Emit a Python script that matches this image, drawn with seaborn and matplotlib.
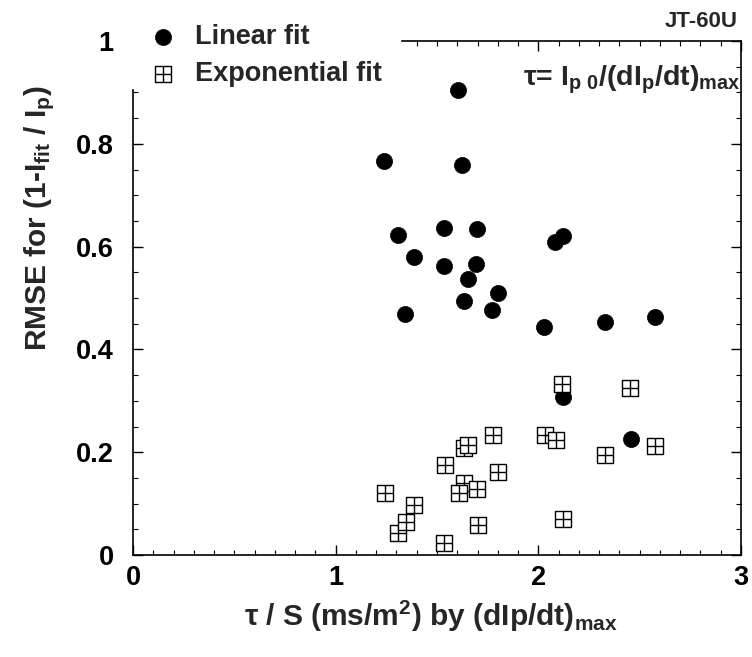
import numpy as np
import pandas as pd
import matplotlib
matplotlib.use("Agg")
import matplotlib.pyplot as plt
from matplotlib.path import Path
from matplotlib.ticker import MultipleLocator, FuncFormatter
import seaborn as sns

# ---- data ----
lin_x = [1.605, 1.238, 1.625, 1.306, 1.534, 1.699, 2.082, 2.123, 1.385, 1.534, 1.691,
         1.651, 1.802, 1.633, 1.773, 1.342, 2.027, 2.33, 2.575, 2.12, 2.455]
lin_y = [0.905, 0.767, 0.759, 0.623, 0.636, 0.634, 0.608, 0.621, 0.579, 0.563, 0.566,
         0.536, 0.510, 0.495, 0.477, 0.468, 0.443, 0.454, 0.464, 0.308, 0.226]

exp_x = [1.634, 1.633, 2.115, 2.45, 1.775, 2.033, 2.087, 1.654, 2.578, 2.33, 1.539,
         1.802, 1.696, 1.610, 1.243, 1.388, 1.309, 1.345, 2.123, 1.703, 1.534]
exp_y = [0.208, 0.141, 0.333, 0.325, 0.233, 0.233, 0.224, 0.214, 0.212, 0.194, 0.175,
         0.162, 0.128, 0.120, 0.120, 0.097, 0.042, 0.065, 0.071, 0.058, 0.023]

x_ticks = [0, 1, 2, 3]
y_ticks = [0, 0.2, 0.4, 0.6, 0.8, 1]
series_labels = ["Linear fit", "Exponential fit"]

sns.set_theme(style="ticks")
plt.rcParams["font.family"] = ["Liberation Sans", "DejaVu Sans"]
plt.rcParams["font.weight"] = "bold"
plt.rcParams["mathtext.fontset"] = "custom"
plt.rcParams["mathtext.rm"] = "Liberation Sans:bold"
plt.rcParams["mathtext.it"] = "Liberation Sans:bold"
plt.rcParams["mathtext.bf"] = "Liberation Sans:bold"
plt.rcParams["mathtext.sf"] = "Liberation Sans:bold"
plt.rcParams["mathtext.default"] = "rm"

lin_df = pd.DataFrame({"x": lin_x, "y": lin_y})
exp_df = pd.DataFrame({"x": exp_x, "y": exp_y})

# square-with-cross marker
verts = [(-1, -1), (1, -1), (1, 1), (-1, 1), (-1, -1),
         (0, -1), (0, 1), (-1, 0), (1, 0)]
codes = [Path.MOVETO, Path.LINETO, Path.LINETO, Path.LINETO, Path.CLOSEPOLY,
         Path.MOVETO, Path.LINETO, Path.MOVETO, Path.LINETO]
boxplus = Path(verts, codes)

fig = plt.figure(figsize=(7.52, 6.57), dpi=100)
ax = fig.add_axes([133 / 752, 1 - 555 / 657, 608 / 752, 514 / 657])

sns.scatterplot(data=lin_df, x="x", y="y", ax=ax, marker="o", s=135,
                color="black", edgecolor="black", linewidth=0.5,
                label=series_labels[0], zorder=3)
sns.scatterplot(data=exp_df, x="x", y="y", ax=ax, marker=boxplus, s=135,
                facecolor="white", edgecolor="black", linewidth=1.0,
                label=series_labels[1], zorder=4)

ax.set_xlim(0, 3)
ax.set_ylim(0, 1)
ax.set_xticks(x_ticks)
ax.set_yticks(y_ticks)
ax.xaxis.set_minor_locator(MultipleLocator(0.1))
ax.yaxis.set_minor_locator(MultipleLocator(0.05))
ax.yaxis.set_major_formatter(FuncFormatter(lambda v, p: f"{v:g}"))
ax.xaxis.set_major_formatter(FuncFormatter(lambda v, p: f"{v:g}"))
ax.tick_params(which="both", direction="in", top=True, right=True,
               colors="black", labelsize=19.5)
ax.tick_params(which="major", length=7, width=1.0)
ax.tick_params(which="minor", length=3.6, width=0.8)
ax.tick_params(axis="y", pad=14)
ax.tick_params(axis="x", pad=7)
for lab in ax.get_xticklabels() + ax.get_yticklabels():
    lab.set_fontweight("bold")
for sp in ax.spines.values():
    sp.set_color("black")
    sp.set_linewidth(1.2)

ax.set_xlabel(r"τ / S (ms/m$^{2}$) by (dIp/dt)$_{\rm max}$", fontsize=21.5,
              fontweight="bold")
ax.set_ylabel(r"RMSE for (1-I$_{\rm fit}$ / I$_{\rm p}$)", fontsize=21.5,
              fontweight="bold")
ax.xaxis.set_label_coords(0.49, -0.085)
ax.yaxis.set_label_coords(-0.125, 0.656)

leg = ax.legend(loc="upper left",
                bbox_to_anchor=(130 / 752, 1 - 23 / 657, (400 - 130) / 752, 0.0),
                bbox_transform=fig.transFigure, mode="expand",
                frameon=True, facecolor="white", edgecolor="white", framealpha=1,
                fancybox=False, fontsize=19.5, handlelength=2.3, handletextpad=0.05,
                borderpad=0.05, labelspacing=0.38, borderaxespad=0)
leg.set_zorder(10)
for t in leg.get_texts():
    t.set_fontweight("bold")

fig.text(738 / 752, 1 - 21.7 / 657, "JT-60U", ha="right", va="center",
         fontsize=16, fontweight="bold")
ax.text(0.641, 0.914,
        r"τ= I$_{\rm p\ 0}$/(dI$_{\rm p}$/dt)$_{\rm max}$",
        transform=ax.transAxes, ha="left", va="baseline", fontsize=20.5,
        fontweight="bold")

fig.savefig("out.png", dpi=100, facecolor="white")
